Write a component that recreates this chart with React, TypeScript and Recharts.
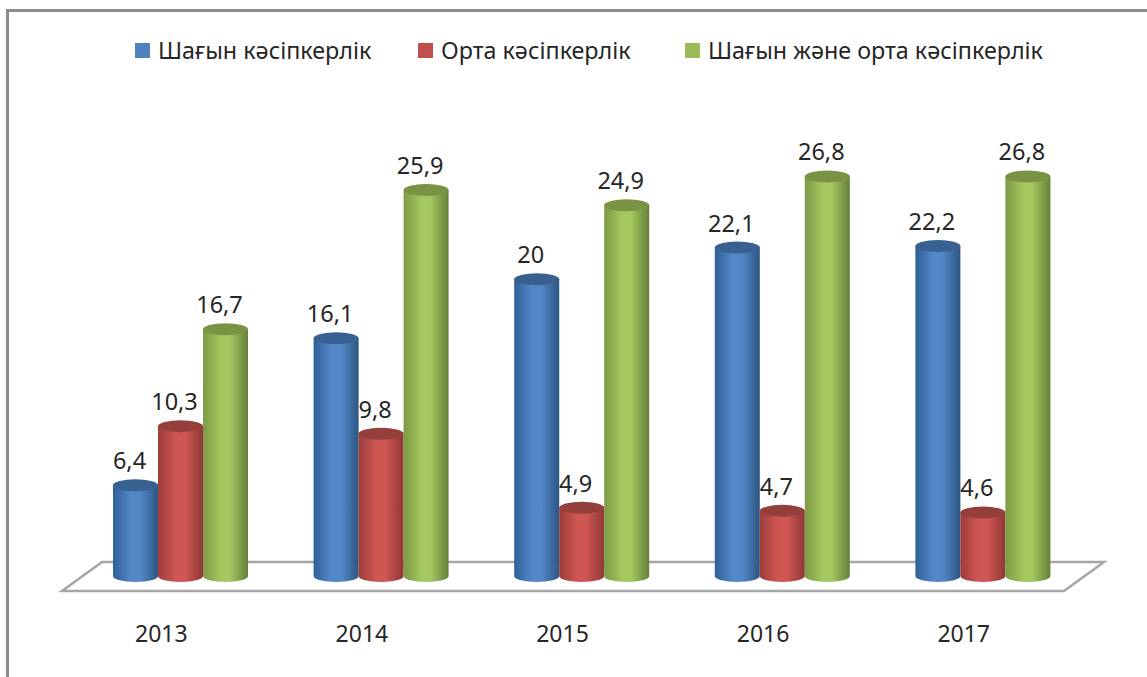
import React from 'react';
import { BarChart, Bar, XAxis, YAxis, Legend, LabelList, Customized } from 'recharts';

const years = ['2013', '2014', '2015', '2016', '2017'];
const small = [6.4, 16.1, 20, 22.1, 22.2];
const medium = [10.3, 9.8, 4.9, 4.7, 4.6];
const both = [16.7, 25.9, 24.9, 26.8, 26.8];
const names = ['Шағын кәсіпкерлік', 'Орта кәсіпкерлік', 'Шағын және орта кәсіпкерлік'];
const data = years.map((year, i) => ({ year, small: small[i], medium: medium[i], both: both[i] }));

const FONT = '"Noto Sans", sans-serif';
const TEXT = '#262626';
const palette = {
  small: { legend: '#4f81bd', edgeL: '#2f5f97', mid: '#5388c8', edgeR: '#2c5682', top: '#386192' },
  medium: { legend: '#c0504d', edgeL: '#9c3d3a', mid: '#cf5653', edgeR: '#8f3835', top: '#953f3c' },
  both: { legend: '#9bbb59', edgeL: '#7d9a45', mid: '#a4c760', edgeR: '#64803a', top: '#799243' },
};
const seriesKeys = ['small', 'medium', 'both'] as const;

const Cylinder = (props: any) => {
  const { x, y, width, height, seriesKey } = props;
  const rx = width / 2;
  const ry = 6;
  const base = y + height - ry;
  const d = `M${x},${y} L${x},${base} A${rx},${ry} 0 0 0 ${x + width},${base} L${x + width},${y} Z`;
  return (
    <g>
      <path d={d} fill={`url(#cyl-${seriesKey})`} />
      <ellipse cx={x + rx} cy={y} rx={rx} ry={ry} fill={palette[seriesKey as 'small'].top} />
    </g>
  );
};

const ValueLabel = (props: any) => {
  const { x, y, width, value } = props;
  return (
    <text x={x + width / 2 - 6} y={y - 25} textAnchor="middle" dominantBaseline="central"
      fontFamily={FONT} fontSize={23.5} fill={TEXT}>
      {String(value).replace('.', ',')}
    </text>
  );
};

const Floor = () => (
  <g>
    <polygon points="62,591 1064,591 1104,562 102,562" fill="#fff" stroke="#a6a6a6" strokeWidth={2.5} />
  </g>
);

const LegendBlock = () => (
  <div style={{ position: 'absolute', left: 0, top: 0, width: 1147, height: 60, fontFamily: FONT, fontSize: 23.3, color: TEXT }}>
    {names.map((name, i) => (
      <div key={name} style={{ position: 'absolute', left: [135, 418, 685][i], top: 34, display: 'flex', alignItems: 'center', whiteSpace: 'nowrap', height: 32 }}>
        <span style={{ display: 'inline-block', width: 15, height: 15, marginRight: 8, background: palette[seriesKeys[i]].legend }} />
        <span>{name}</span>
      </div>
    ))}
  </div>
);

export default function App() {
  return (
    <div style={{ position: 'absolute', left: 0, top: 0, width: 1147, height: 677, background: '#fff', overflow: 'hidden' }}>
      <div style={{ position: 'absolute', left: 6, top: 9, width: 1147, height: 677, borderLeft: '3px solid #8c8c8c', borderTop: '3px solid #8c8c8c', boxSizing: 'border-box' }} />
      <BarChart width={1147} height={677} data={data} barGap={0} barSize={45}
        margin={{ top: 128, right: 64, bottom: 5, left: 80 }} style={{ position: 'absolute', left: 0, top: 0 }}>
        <defs>
          {seriesKeys.map((k) => (
            <linearGradient key={k} id={`cyl-${k}`} x1="0" y1="0" x2="1" y2="0">
              <stop offset="0%" stopColor={palette[k].edgeL} />
              <stop offset="40%" stopColor={palette[k].mid} />
              <stop offset="60%" stopColor={palette[k].mid} />
              <stop offset="100%" stopColor={palette[k].edgeR} />
            </linearGradient>
          ))}
        </defs>
        <Customized component={Floor} />
        <XAxis dataKey="year" axisLine={false} tickLine={false} tickMargin={38} interval={0}
          tick={{ fontFamily: FONT, fontSize: 23, fill: TEXT, dx: -19 }} />
        <YAxis hide domain={[0, 30]} />
        <Legend content={() => <LegendBlock />} wrapperStyle={{ left: 0, top: 0, width: 1147, height: 60 }} />
        {seriesKeys.map((k, i) => (
          <Bar key={k} dataKey={k} name={names[i]} fill={palette[k].legend} isAnimationActive={false}
            shape={(p: any) => <Cylinder {...p} seriesKey={k} />}>
            <LabelList dataKey={k} content={<ValueLabel />} />
          </Bar>
        ))}
      </BarChart>
    </div>
  );
}
